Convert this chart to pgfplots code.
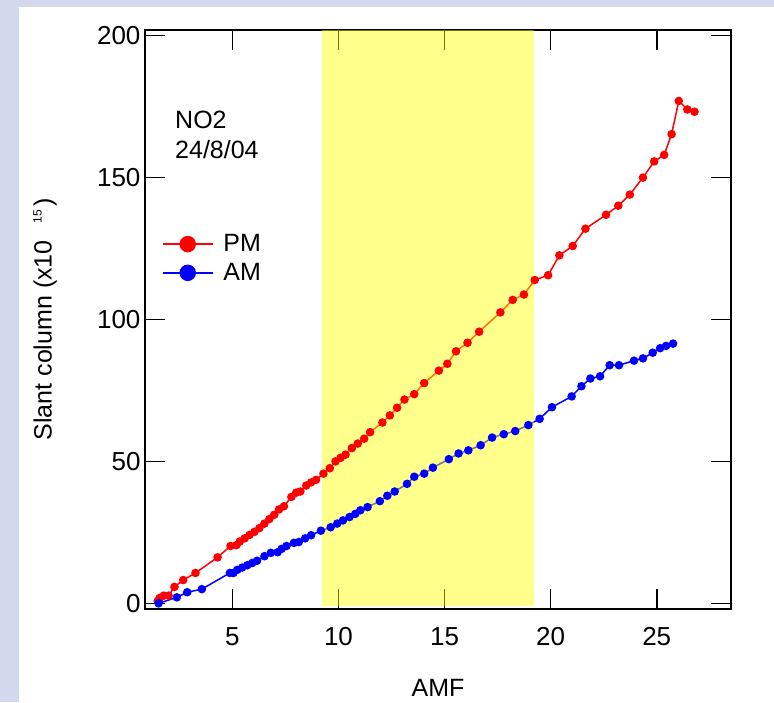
\documentclass[border=0pt]{standalone}
\usepackage{pgfplots}
\pgfplotsset{compat=1.18}
\usepackage{fontspec}
\setmainfont{Liberation Sans}
\definecolor{bgcol}{RGB}{212,216,236}
\definecolor{band}{RGB}{255,255,0}
\begin{document}
\begin{tikzpicture}[x=1pt,y=1pt]
\fill[bgcol] (0,0) rectangle (774,702);
\fill[white] (19,0) rectangle (774,695);
\begin{axis}[
  at={(145pt,93pt)}, anchor=south west,
  scale only axis, width=586pt, height=579pt,
  xmin=0.88, xmax=28.5, ymin=-2, ymax=202,
  xtick={5,10,15,20,25}, ytick={0,50,100,150,200},
  tick align=inside, major tick length=20pt,
  minor tick num=0,
  tick style={line width=1.6pt, black},
  axis line style={line width=1.8pt},
  /pgf/number format/assume math mode=true,
  tick label style={font=\fontsize{26}{30}\selectfont},
  xticklabel style={yshift=-15pt},
  yticklabel style={xshift=-1pt},
  xlabel={AMF},
  ylabel={Slant column (x10\hspace{17pt}\raisebox{10pt}{\fontsize{12}{12}\selectfont 15}\hspace{3pt})},
  label style={font=\fontsize{25}{30}\selectfont},
  xlabel style={at={(axis description cs:0.5,-0.1364)}, anchor=center},
  ylabel style={at={(axis description cs:-0.1706,0.5)}, anchor=center},
  legend cell align=left,
  legend style={draw=none, fill=none, inner sep=0pt, outer sep=0pt,
    at={(axis description cs:0.029,0.6054)}, anchor=west,
    font=\fontsize{25}{28}\selectfont,
    nodes={inner sep=2pt}, row sep=6pt, column sep=8pt},
  legend image code/.code={\draw[#1,mark=none,line width=1.5pt] (0pt,0pt) -- (50pt,0pt); \fill[#1] (25pt,0pt) circle (7.5pt);},
]
\addplot[red, line width=1.5pt, mark=*, mark size=3.5pt] coordinates {
(1.48,0.8) (1.57,1.9) (1.76,2.7) (1.99,2.7) (2.27,5.8) (2.68,8.2) (3.26,10.7)
(4.30,16.2) (4.91,20.2) (5.19,20.5) (5.35,21.8) (5.58,22.9) (5.81,24.1) (6.04,25.2)
(6.27,26.5) (6.51,28.1) (6.74,29.7) (6.97,31.2) (7.2,33.1) (7.43,34.2) (7.78,37.5)
(8.01,39.0) (8.2,39.4) (8.48,41.5) (8.71,42.6) (8.94,43.5) (9.29,45.7) (9.59,47.6)
(9.86,50.0) (10.1,51.3) (10.33,52.4) (10.63,54.7) (10.91,56.3) (11.21,58.0) (11.49,60.3)
(12.07,63.7) (12.42,66.2) (12.76,68.9) (13.11,71.8) (13.57,73.7) (14.04,77.6) (14.73,82.0)
(15.13,84.4) (15.54,88.8) (16.08,91.8) (16.63,95.7) (17.63,102.5) (18.21,106.9) (18.74,108.8)
(19.25,113.9) (19.88,115.6) (20.41,122.6) (21.04,125.9) (21.64,132.0) (22.61,136.9) (23.19,140.1)
(23.73,144.0) (24.35,150.0) (24.88,155.7) (25.35,158.0) (25.70,165.3) (26.04,177.0) (26.44,174.0)
(26.78,173.2)
};
\addlegendentry{PM}
\addplot[blue, line width=1.5pt, mark=*, mark size=3.5pt] coordinates {
(1.52,0.0) (2.38,2.1) (2.87,3.9) (3.56,5.0) (4.88,10.7) (5.05,10.7) (5.23,11.8)
(5.46,12.6) (5.70,13.4) (5.93,14.2) (6.16,15.0) (6.51,16.6) (6.81,17.8) (7.13,18.0)
(7.32,19.2) (7.55,20.2) (7.90,21.3) (8.13,21.6) (8.43,22.9) (8.71,24.0) (9.17,25.6)
(9.63,26.8) (9.94,28.1) (10.21,29.2) (10.52,30.4) (10.79,31.5) (11.03,32.8) (11.37,33.9)
(11.95,36.0) (12.30,37.9) (12.65,39.4) (13.23,42.1) (13.57,44.6) (14.04,45.7) (14.45,47.8)
(15.20,50.8) (15.66,52.8) (16.12,53.9) (16.70,55.7) (17.24,58.4) (17.79,59.6) (18.33,60.7)
(18.95,62.8) (19.48,65.0) (20.06,69.1) (20.99,72.9) (21.45,76.5) (21.87,79.2) (22.33,80.0)
(22.78,83.9) (23.22,83.9) (23.93,85.5) (24.35,86.3) (24.81,88.3) (25.16,89.9) (25.44,90.7)
(25.77,91.5)
};
\addlegendentry{AM}
\addplot[draw=none, fill=band, fill opacity=0.45, forget plot] coordinates {
(9.2,-0.8) (19.2,-0.8) (19.2,202) (9.2,202)} -- cycle;
\node[anchor=base west, inner sep=0pt, font=\fontsize{25}{30}\selectfont] at (axis description cs:0.0512,0.8307) {NO2};
\node[anchor=base west, inner sep=0pt, font=\fontsize{25}{30}\selectfont] at (axis description cs:0.0512,0.7789) {24/8/04};
\end{axis}
\end{tikzpicture}
\end{document}
